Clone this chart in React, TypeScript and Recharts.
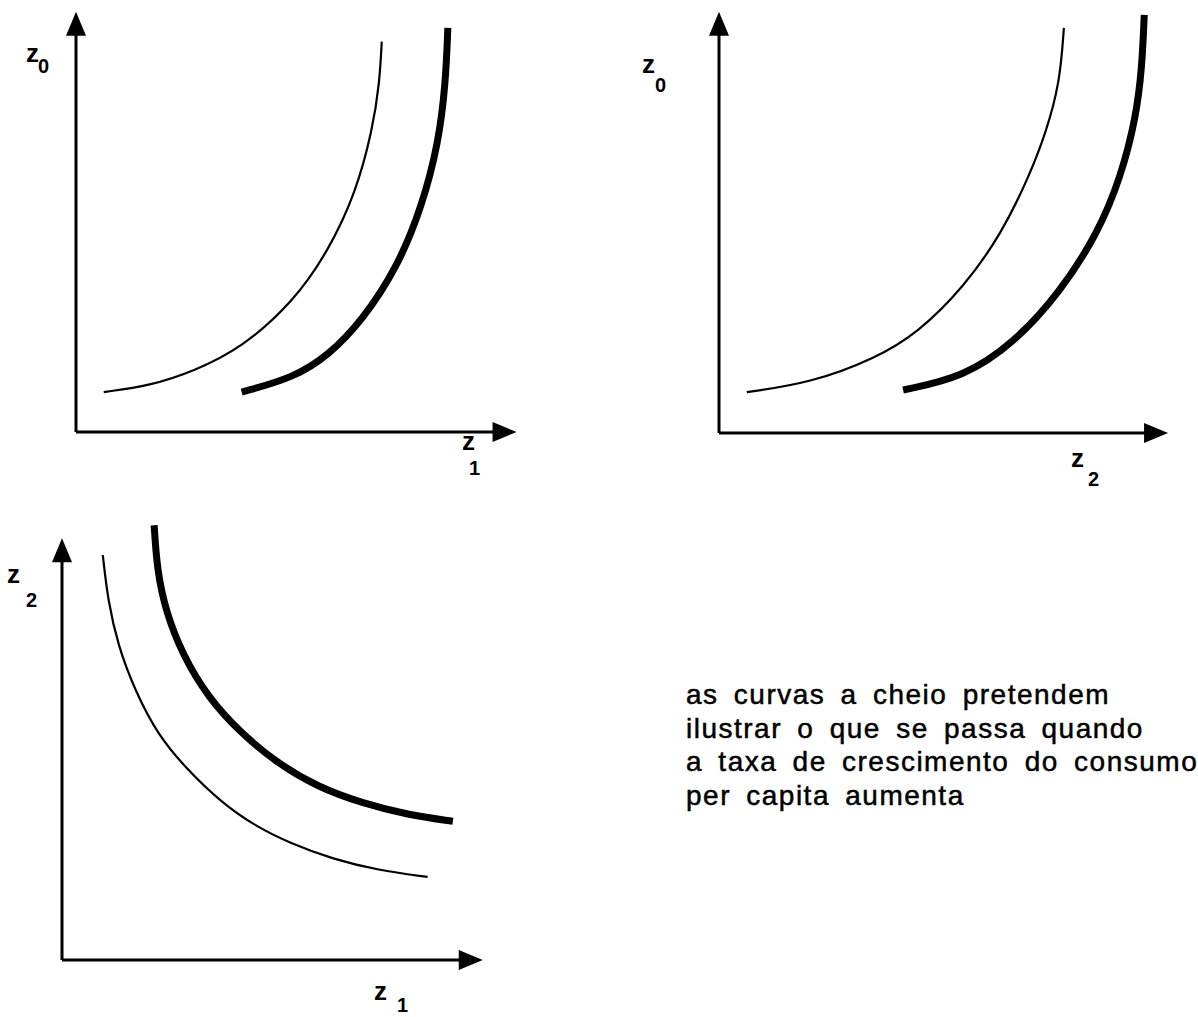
import React from 'react';
import { LineChart, Line, XAxis, YAxis, ReferenceLine, ReferenceDot } from 'recharts';

const FONT = '"Liberation Sans", Arial, Helvetica, sans-serif';

// Panel 1: z0 vs z1
const p1Thin = [[0.63, 0.95], [1.68, 1.1], [2.68, 1.45], [3.76, 2.0], [4.94, 3.1], [5.74, 4.33], [6.35, 5.69], [6.73, 7.19], [6.89, 8.31], [6.94, 9.29]];
const p1Thick = [[3.76, 0.95], [4.94, 1.29], [5.74, 1.83], [6.51, 2.67], [7.3, 3.93], [7.85, 5.36], [8.23, 6.88], [8.39, 8.31], [8.44, 9.62]];
// Panel 2: z0 vs z2
const p2Thin = [[0.62, 0.97], [2.05, 1.19], [3.5, 1.78], [4.43, 2.38], [5.46, 3.47], [6.3, 4.75], [6.9, 6.08], [7.28, 7.13], [7.59, 8.31], [7.68, 9.62]];
const p2Thick = [[4.1, 1.02], [5.46, 1.33], [6.57, 2.14], [7.59, 3.33], [8.44, 4.75], [8.95, 6.08], [9.29, 7.51], [9.42, 8.69], [9.47, 9.93]];
// Panel 3: z2 vs z1
const p3Thin = [[0.97, 9.6], [1.09, 8.53], [1.33, 7.46], [1.73, 6.4], [2.28, 5.33], [2.99, 4.5], [3.75, 3.77], [4.58, 3.18], [5.42, 2.77], [6.44, 2.39], [7.51, 2.13], [8.69, 1.97]];
const p3Thick = [[2.19, 10.31], [2.26, 9.24], [2.47, 8.25], [2.87, 7.23], [3.47, 6.23], [4.23, 5.4], [5.11, 4.67], [6.08, 4.1], [7.13, 3.72], [8.22, 3.44], [9.29, 3.29]];

const axisEnd = 10;

const noteLines = [
  'as curvas a cheio pretendem',
  'ilustrar o que se passa quando',
  'a taxa de crescimento do consumo',
  'per capita aumenta',
];

const toPts = (arr: number[][]) => arr.map(([x, y]) => ({ x, y }));

type Geo = { ox: number; oy: number; ux: number; uy: number; xMax: number; yMax: number };

const geo1: Geo = { ox: 76, oy: 432, ux: 44.1, uy: 42, xMax: 10.6, yMax: 10.4 };
const geo2: Geo = { ox: 719, oy: 433, ux: 44.9, uy: 42.1, xMax: 10.6, yMax: 10.4 };
const geo3: Geo = { ox: 62, oy: 960, ux: 42.1, uy: 42.2, xMax: 10.6, yMax: 10.6 };

const arrowRight = (p: any) => {
  const { cx, cy } = p;
  return <polygon points={`${cx},${cy} ${cx - 24},${cy - 10} ${cx - 24},${cy + 10}`} fill="#000" />;
};
const arrowUp = (p: any) => {
  const { cx, cy } = p;
  return <polygon points={`${cx},${cy} ${cx - 10},${cy + 24} ${cx + 10},${cy + 24}`} fill="#000" />;
};

function Panel({ geo, thin, thick }: { geo: Geo; thin: number[][]; thick: number[][] }) {
  const m = 14;
  const width = Math.round(geo.xMax * geo.ux + 2 * m);
  const height = Math.round(geo.yMax * geo.uy + 2 * m);
  return (
    <div style={{ position: 'absolute', left: geo.ox - m, top: geo.oy - geo.yMax * geo.uy - m }}>
      <LineChart width={width} height={height} margin={{ top: m, right: m, bottom: m, left: m }}>
        <XAxis type="number" dataKey="x" domain={[0, geo.xMax]} hide />
        <YAxis type="number" dataKey="y" domain={[0, geo.yMax]} hide />
        <ReferenceLine segment={[{ x: 0, y: 0 }, { x: axisEnd - 0.3, y: 0 }]} stroke="#000" strokeWidth={3} ifOverflow="visible" />
        <ReferenceLine segment={[{ x: 0, y: 0 }, { x: 0, y: axisEnd - 0.3 }]} stroke="#000" strokeWidth={3} ifOverflow="visible" />
        <ReferenceDot x={axisEnd} y={0} r={0} shape={arrowRight} ifOverflow="visible" />
        <ReferenceDot x={0} y={axisEnd} r={0} shape={arrowUp} ifOverflow="visible" />
        <Line data={toPts(thin)} dataKey="y" type="basis" stroke="#000" strokeWidth={2.2} dot={false} activeDot={false} isAnimationActive={false} />
        <Line data={toPts(thick)} dataKey="y" type="basis" stroke="#000" strokeWidth={7} strokeLinecap="butt" dot={false} activeDot={false} isAnimationActive={false} />
      </LineChart>
    </div>
  );
}

function AxisLabel({ x, y, sub, sx, sy }: { x: number; y: number; sub: string; sx: number; sy: number }) {
  return (
    <g fontFamily={FONT} fill="#000">
      <text x={x} y={y} fontSize={26} fontWeight="bold">z</text>
      <text x={sx} y={sy} fontSize={20} fontWeight="bold">{sub}</text>
    </g>
  );
}

export default function App() {
  return (
    <div style={{ position: 'absolute', left: 0, top: 0, width: 1198, height: 1017, background: '#fff', overflow: 'hidden' }}>
      <Panel geo={geo1} thin={p1Thin} thick={p1Thick} />
      <Panel geo={geo2} thin={p2Thin} thick={p2Thick} />
      <Panel geo={geo3} thin={p3Thin} thick={p3Thick} />
      <svg width={1198} height={1017} style={{ position: 'absolute', left: 0, top: 0, pointerEvents: 'none' }}>
        <AxisLabel x={26} y={62} sub="0" sx={38} sy={73} />
        <AxisLabel x={462} y={450} sub="1" sx={469} sy={475} />
        <AxisLabel x={642} y={73} sub="0" sx={655} sy={92} />
        <AxisLabel x={1071} y={467} sub="2" sx={1088} sy={486} />
        <AxisLabel x={7} y={583} sub="2" sx={26} sy={607} />
        <AxisLabel x={374} y={1000} sub="1" sx={397} sy={1012} />
        <g fontFamily={FONT} fontSize={28} fill="#000" stroke="#000" strokeWidth={0.5} style={{ letterSpacing: '1.5px', wordSpacing: '6px' }}>
          {noteLines.map((t, i) => (
            <text key={i} x={686} y={704 + i * 33.7}>{t}</text>
          ))}
        </g>
      </svg>
    </div>
  );
}
